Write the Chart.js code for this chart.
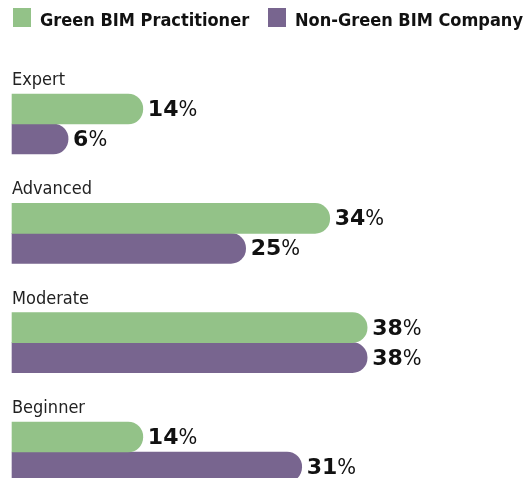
<!DOCTYPE html>
<html>
<head>
<meta charset="utf-8">
<title>Green BIM skill levels</title>
<script src="https://cdn.jsdelivr.net/npm/chart.js@4.4.1/dist/chart.umd.min.js"></script>
<style>
  html, body { margin: 0; padding: 0; background: #fff; overflow: hidden; }
  #wrap { width: 526px; height: 478px; }
</style>
</head>
<body>
<div id="wrap"><canvas id="chartLevels" width="526" height="478"></canvas></div>
<script>
// datos
const levels = ["Expert", "Advanced", "Moderate", "Beginner"];
const greenBim = [14, 34, 38, 14];
const nonGreenBim = [6, 25, 38, 31];
const seriesNames = ["Green BIM Practitioner", "Non-Green BIM Company"];
const seriesColors = ["#93c288", "#78658f"];

const FONT_CAT = "18px 'DejaVu Sans Condensed', 'DejaVu Sans', sans-serif";
const FONT_LEG = "bold 18px 'DejaVu Sans Condensed', 'DejaVu Sans', sans-serif";
const FONT_NUM = "bold 22px 'DejaVu Sans', sans-serif";
const FONT_PCT = "22px 'Liberation Sans Narrow', 'DejaVu Sans Condensed', sans-serif";

// leyenda, etiquetas de categoría y valores
const labelsPlugin = {
  id: "labelsPlugin",
  afterDatasetsDraw(chart) {
    const ctx = chart.ctx;
    ctx.save();
    ctx.textBaseline = "alphabetic";
    ctx.textAlign = "left";

    // leyenda
    const legX = [13, 268];
    seriesNames.forEach((name, i) => {
      ctx.fillStyle = seriesColors[i];
      ctx.fillRect(legX[i], 8, 18, 19);
      ctx.fillStyle = "#111";
      ctx.font = FONT_LEG;
      ctx.fillText(name, legX[i] + 27, 26);
    });

    // categorías encima de cada grupo
    const metaG = chart.getDatasetMeta(0);
    ctx.font = FONT_CAT;
    ctx.fillStyle = "#222";
    metaG.data.forEach((bar, j) => {
      const top = bar.y - bar.height / 2;
      ctx.fillText(levels[j], chart.chartArea.left, top - 9);
    });

    // valores al final de cada barra
    chart.data.datasets.forEach((ds, i) => {
      const meta = chart.getDatasetMeta(i);
      meta.data.forEach((bar, j) => {
        const num = String(ds.data[j]);
        const x = bar.x + 5;
        const y = bar.y + 7;
        ctx.fillStyle = "#111";
        ctx.font = FONT_NUM;
        ctx.fillText(num, x, y);
        const w = ctx.measureText(num).width;
        ctx.font = FONT_PCT;
        ctx.fillText("%", x + w, y);
      });
    });
    ctx.restore();
  }
};

const ctx = document.getElementById("chartLevels").getContext("2d");
const chart = new Chart(ctx, {
  type: "bar",
  data: {
    labels: levels,
    datasets: [
      {
        label: seriesNames[0],
        data: greenBim,
        backgroundColor: seriesColors[0],
        borderRadius: 15,
        borderSkipped: "start",
        barThickness: 30,
        clip: false,
      },
      {
        label: seriesNames[1],
        data: nonGreenBim,
        backgroundColor: seriesColors[1],
        borderRadius: 15,
        borderSkipped: "start",
        barThickness: 30,
        clip: false,
      },
    ],
  },
  options: {
    indexAxis: "y",
    responsive: false,
    animation: false,
    devicePixelRatio: 1,
    layout: { padding: { left: 12, right: 0, top: 124, bottom: 26 } },
    plugins: {
      legend: { display: false },
      tooltip: { enabled: false },
    },
    scales: {
      x: { display: false, min: 0, max: 55 },
      y: { display: false, offset: false },
    },
  },
  plugins: [labelsPlugin],
});
</script>
</body>
</html>
